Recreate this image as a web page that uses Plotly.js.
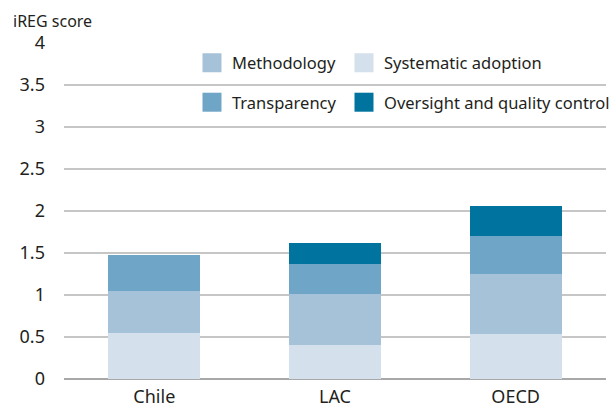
<!DOCTYPE html>
<html><head><meta charset="utf-8">
<script src="https://cdn.plot.ly/plotly-3.0.1.min.js"></script>
<style>html,body{margin:0;padding:0;background:#fff}#chart{width:613px;height:407px}</style>
</head><body><div id="chart"></div>
<script>
var categories = ["Chile", "LAC", "OECD"];
var systematicAdoption = [0.55, 0.40, 0.54];
var methodology = [0.50, 0.61, 0.71];
var transparency = [0.43, 0.36, 0.45];
var oversight = [0.00, 0.25, 0.36];
var yTickVals = [0, 0.5, 1, 1.5, 2, 2.5, 3, 3.5, 4];
var yTickText = ["0", "0.5", "1", "1.5", "2", "2.5", "3", "3.5", "4"];

var FONT = "Noto Sans, sans-serif";
function bar(name, y, color, legend, rank, lw) {
  var t = {type: "bar", name: name, x: categories, y: y, width: 0.51,
    marker: {color: color, line: {width: 0}}, legend: legend, legendrank: rank,
    hoverinfo: "skip"};
  if (lw) t.legendwidth = lw;
  return t;
}
var data = [
  bar("Systematic adoption", systematicAdoption, "#d4e0eb", "legend", 2),
  bar("Methodology", methodology, "#a6c2d8", "legend", 1, 107),
  bar("Transparency", transparency, "#6fa5c7", "legend2", 1, 107),
  bar("Oversight and quality control", oversight, "#00739f", "legend2", 2)
];
var legBase = {orientation: "h", xref: "container", yref: "container", xanchor: "left", yanchor: "middle",
  bgcolor: "rgba(0,0,0,0)", font: {family: FONT, size: 16.5, color: "#231f20"}, traceorder: "normal"};
var layout = {
  width: 613, height: 407,
  margin: {l: 64, r: 7, t: 42.5, b: 27.5, autoexpand: false},
  paper_bgcolor: "#fff", plot_bgcolor: "#fff",
  barmode: "stack",
  font: {family: FONT, color: "#231f20"},
  xaxis: {type: "category", showgrid: false, showline: false, ticks: "", ticklabelstandoff: 5,
    tickfont: {family: FONT, size: 18, color: "#231f20"}, automargin: false, fixedrange: true},
  yaxis: {range: [0, 4], tickvals: yTickVals, ticktext: yTickText, showgrid: true,
    gridcolor: "#c6c6c6", gridwidth: 1.5, zeroline: true, zerolinecolor: "#a8a8a8", zerolinewidth: 2,
    showline: false, ticks: "", ticklabelstandoff: 18,
    tickfont: {family: FONT, size: 18, color: "#231f20"}, automargin: false, fixedrange: true},
  legend: Object.assign({}, legBase, {x: 0.3132, y: 0.8452}),
  legend2: Object.assign({}, legBase, {x: 0.3132, y: 0.7482}),
  annotations: [{text: "iREG score", xref: "paper", yref: "paper", x: -0.098, y: 1.066,
    xanchor: "left", yanchor: "middle", showarrow: false,
    font: {family: FONT, size: 16, color: "#231f20"}}],
  showlegend: true
};
Plotly.newPlot("chart", data, layout, {displayModeBar: false, staticPlot: true}).then(function (gd) {
  var paths = gd.querySelectorAll(".legendpoints path");
  paths.forEach(function (p) { p.setAttribute("d", "M9.5,9.5H-9.5V-9.5H9.5Z"); });
});
</script></body></html>
